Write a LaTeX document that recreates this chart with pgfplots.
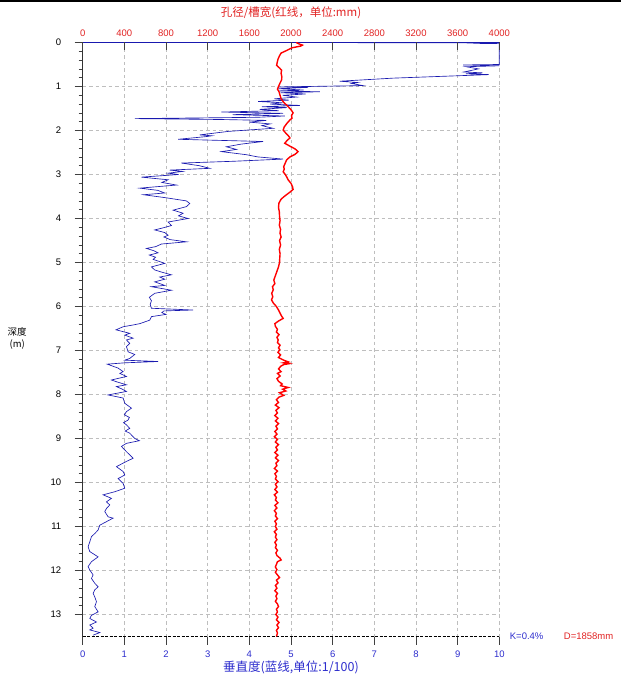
\documentclass[border=0pt]{standalone}
\usepackage{pgfplots}
\pgfplotsset{compat=1.18}
\usepackage{fontspec}
\setmainfont{Liberation Sans}
\newfontfamily\cjk{Noto Sans CJK SC}
\definecolor{trblue}{RGB}{25,25,175}
\definecolor{labblue}{RGB}{45,45,205}
\definecolor{labred}{RGB}{225,35,35}
\definecolor{gridgray}{RGB}{190,190,190}
\pgfplotsset{/pgf/number format/assume math mode=true, /pgf/number format/1000 sep={}}

\pgfplotstableread{
d v
0.00 4.73
0.01 9.35
0.02 9.40
0.025 10
0.47 10
0.50 10
0.51 9.13
0.53 10
0.55 9.2
0.60 9.5
0.67 9.15
0.69 9.6
0.71 9.2
0.73 9.75
0.81 7.45
0.88 6.17
0.91 6.6
0.93 6.45
0.98 6.73
1.01 4.69
1.02 5.41
1.05 4.7
1.08 5.3
1.10 4.7
1.12 5.69
1.14 4.75
1.17 5.35
1.20 4.8
1.24 5.13
1.28 4.6
1.31 4.95
1.34 4.21
1.37 4.8
1.40 4.5
1.43 5.21
1.46 4.3
1.48 4.9
1.52 4.25
1.55 4.7
1.58 3.33
1.61 4.81
1.64 3.6
1.67 4.85
1.70 4.2
1.73 1.25
1.75 3.3
1.77 4.41
1.81 4.0
1.85 4.5
1.89 4.3
1.95 4.57
2.02 3.5
2.10 2.81
2.12 3.1
2.14 2.95
2.20 2.29
2.25 4.33
2.31 3.8
2.37 3.45
2.43 3.69
2.48 3.33
2.55 3.93
2.60 4.2
2.65 4.81
2.70 3.6
2.74 2.37
2.80 2.8
2.86 3.05
2.90 2.09
2.93 2.4
2.97 2.05
3.00 2.3
3.06 1.41
3.12 2.05
3.18 1.9
3.24 2.25
3.31 1.37
3.36 1.8
3.42 1.97
3.46 1.46
3.53 2.01
3.60 2.49
3.66 2.57
3.73 2.49
3.81 2.17
3.88 2.41
3.94 2.3
4.00 2.53
4.08 2.05
4.16 2.13
4.22 1.9
4.26 1.73
4.32 1.97
4.38 2.05
4.42 1.95
4.48 2.1
4.53 2.49
4.58 1.89
4.64 1.75
4.68 1.53
4.73 1.7
4.78 1.81
4.83 1.6
4.88 1.75
4.93 1.69
4.98 1.85
5.02 1.97
5.10 1.65
5.17 1.73
5.22 1.9
5.28 2.13
5.33 1.85
5.38 1.97
5.44 1.73
5.52 1.97
5.55 1.65
5.63 2.13
5.70 1.73
5.79 1.6
5.87 1.65
5.95 1.62
6.04 1.65
6.08 2.65
6.10 1.95
6.14 1.9
6.18 2.0
6.23 1.65
6.31 1.61
6.39 1.37
6.42 1.21
6.46 0.97
6.53 0.8
6.61 1.13
6.65 1.01
6.72 1.21
6.76 1.05
6.84 1.13
6.91 1.05
7.03 1.09
7.09 1.25
7.18 1.13
7.22 1.01
7.25 1.81
7.28 1.01
7.31 0.59
7.40 0.85
7.48 0.97
7.52 0.89
7.59 1.05
7.67 0.69
7.71 0.81
7.78 1.05
7.82 0.81
7.87 0.93
7.93 1.05
8.01 0.61
8.08 0.97
8.20 1.01
8.31 1.17
8.39 1.05
8.46 1.00
8.52 1.12
8.58 1.09
8.64 0.98
8.69 1.05
8.77 1.13
8.83 1.02
8.88 1.13
9.00 1.25
9.05 1.36
9.11 1.05
9.18 0.93
9.30 1.05
9.41 1.17
9.45 1.21
9.52 1.05
9.64 0.81
9.75 0.97
9.83 1.01
9.91 0.85
10.02 0.97
10.13 1.01
10.21 0.77
10.28 0.49
10.36 0.69
10.44 0.57
10.51 0.65
10.59 0.57
10.66 0.53
10.78 0.61
10.81 0.73
10.89 0.57
10.97 0.41
11.08 0.37
11.16 0.29
11.23 0.21
11.35 0.17
11.46 0.13
11.57 0.17
11.69 0.37
11.80 0.21
11.91 0.13
11.99 0.17
12.10 0.25
12.18 0.21
12.29 0.29
12.37 0.37
12.44 0.29
12.52 0.25
12.60 0.29
12.71 0.33
12.82 0.29
12.94 0.37
13.02 0.21
13.09 0.17
13.17 0.33
13.24 0.17
13.31 0.25
13.35 0.17
13.41 0.41
13.47 0.25
}\bluedata

\pgfplotstableread{
d r
0.00 2050
0.03 2075
0.06 2110
0.08 2095
0.12 2010
0.18 1960
0.24 1905
0.30 1890
0.38 1875
0.45 1868
0.52 1862
0.58 1890
0.63 1910
0.70 1905
0.78 1912
0.85 1910
0.92 1895
1.00 1880
1.06 1870
1.12 1885
1.20 1895
1.28 1905
1.36 1930
1.42 1957
1.50 1990
1.56 2010
1.60 2020
1.66 2005
1.72 2010
1.76 1990
1.84 1960
1.92 1935
1.99 1925
2.06 1950
2.12 1975
2.17 1990
2.22 1965
2.29 1940
2.35 1985
2.42 2040
2.48 2068
2.54 2040
2.60 1990
2.67 1957
2.74 1945
2.82 1930
2.88 1935
2.94 1925
3.00 1945
3.06 1960
3.12 1972
3.20 2000
3.28 2015
3.34 2020
3.40 1990
3.48 1945
3.56 1905
3.65 1884
3.75 1880
3.85 1888
3.95 1890
4.05 1895
4.15 1888
4.25 1900
4.33 1894
4.42 1905
4.50 1890
4.60 1900
4.70 1888
4.80 1895
4.90 1892
5.00 1890
5.10 1880
5.20 1865
5.30 1850
5.40 1835
5.48 1845
5.55 1822
5.62 1830
5.70 1815
5.78 1825
5.85 1813
5.92 1830
6.00 1860
6.08 1880
6.15 1895
6.22 1910
6.27 1925
6.33 1880
6.39 1845
6.45 1850
6.52 1870
6.58 1860
6.64 1885
6.70 1865
6.76 1877
6.82 1870
6.88 1895
6.94 1880
6.98 1893
7.04 1875
7.10 1900
7.16 1880
7.22 1930
7.26 1975
7.28 1930
7.30 1980
7.32 1930
7.36 1900
7.42 1880
7.48 1905
7.52 1870
7.58 1895
7.64 1865
7.70 1880
7.76 1915
7.80 1900
7.84 1973
7.88 1920
7.92 1950
7.96 1890
8.02 1930
8.06 1885
8.12 1860
8.18 1880
8.24 1850
8.30 1885
8.36 1855
8.42 1870
8.48 1845
8.54 1875
8.60 1850
8.66 1880
8.72 1855
8.78 1870
8.84 1845
8.90 1865
8.96 1840
9.02 1870
9.08 1850
9.14 1880
9.20 1855
9.26 1870
9.32 1845
9.38 1875
9.44 1850
9.50 1880
9.56 1855
9.62 1865
9.68 1840
9.74 1870
9.80 1845
9.86 1860
9.92 1850
9.98 1875
10.04 1850
10.10 1865
10.16 1845
10.22 1870
10.28 1840
10.34 1860
10.40 1850
10.46 1875
10.52 1845
10.58 1865
10.64 1840
10.70 1860
10.76 1850
10.82 1870
10.88 1845
10.94 1860
11.00 1850
11.06 1865
11.12 1840
11.18 1860
11.24 1850
11.30 1865
11.36 1845
11.42 1860
11.48 1850
11.54 1870
11.60 1855
11.66 1865
11.72 1895
11.76 1905
11.80 1870
11.86 1860
11.92 1850
11.98 1865
12.04 1850
12.10 1870
12.16 1890
12.22 1860
12.28 1875
12.34 1850
12.40 1865
12.46 1845
12.52 1870
12.58 1855
12.64 1865
12.70 1850
12.76 1870
12.82 1880
12.88 1860
12.94 1870
13.00 1855
13.06 1875
13.12 1860
13.18 1885
13.24 1865
13.30 1880
13.36 1860
13.42 1870
13.50 1860
}\reddata

\begin{document}
\begin{tikzpicture}
\path[use as bounding box] (-82.7pt,-42.5pt) rectangle (538.3pt,636.5pt);
\begin{axis}[at={(0,0)}, anchor=south west,
  width=416.6pt, height=594pt, scale only axis,
  xmin=0, xmax=10, ymin=0, ymax=13.5, y dir=reverse,
  clip=false,
  axis line style={draw=none},
  xtick={0,...,10}, ytick={0,...,13}, minor y tick num=4,
  xtick pos=bottom, ytick pos=left,
  xtick align=outside, ytick align=outside,
  major tick length=8pt, minor tick length=4pt,
  tick style={black!75, line width=0.6pt},
  grid=major,
  major grid style={gridgray, dash pattern=on 3.5pt off 3pt, line width=0.5pt},
  ticklabel style={font=\fontsize{9.5}{10}\selectfont},
  xticklabel style={labblue, yshift=-3pt},
  yticklabel style={black, xshift=-10pt},
]
\addplot[trblue, line width=0.65pt] table[x=v, y=d] {\bluedata};
\draw[black!80, line width=0.8pt] (axis cs:0,0) -- (axis cs:0,13.5);
\draw[black, line width=1.3pt, dash pattern=on 3pt off 1.5pt] (axis cs:0,13.5) -- (axis cs:10,13.5);
\draw[trblue, line width=0.7pt] (axis cs:0,0) -- (axis cs:10,0);
\end{axis}
\begin{axis}[at={(0,0)}, anchor=south west,
  width=416.6pt, height=594pt, scale only axis,
  xmin=0, xmax=4000, ymin=0, ymax=13.5, y dir=reverse,
  axis line style={draw=none},
  hide y axis,
  xtick={0,400,...,4000},
  xtick pos=top, xtick align=inside,
  major tick length=8pt,
  tick style={black!75, line width=0.6pt},
  ticklabel style={font=\fontsize{9.5}{10}\selectfont},
  xticklabel style={labred, yshift=2pt},
]
\addplot[red, line width=1.4pt] table[x=r, y=d] {\reddata};
\end{axis}
\node[labred, font=\cjk\fontsize{11.5}{13}\selectfont] at (208.3pt,624pt) {孔径/槽宽(红线，单位:mm)};
\node[labblue, font=\cjk\fontsize{12.5}{14}\selectfont] at (208.3pt,-30.5pt) {垂直度(蓝线,单位:1/100)};
\node[black, font=\cjk\fontsize{9.5}{11}\selectfont, align=center, inner sep=0pt] at (-65.5pt,298pt) {深度\\[1pt](m)};
\node[labblue, font=\fontsize{9.5}{10}\selectfont, anchor=west, inner sep=0pt] at (427pt,0pt) {K=0.4\%};
\node[labred, font=\fontsize{9.5}{10}\selectfont, anchor=west, inner sep=0pt] at (481pt,0pt) {D=1858mm};
\draw[black, line width=1.5pt] (-82.7pt,635.7pt) -- (538.3pt,635.7pt);
\end{tikzpicture}
\end{document}
